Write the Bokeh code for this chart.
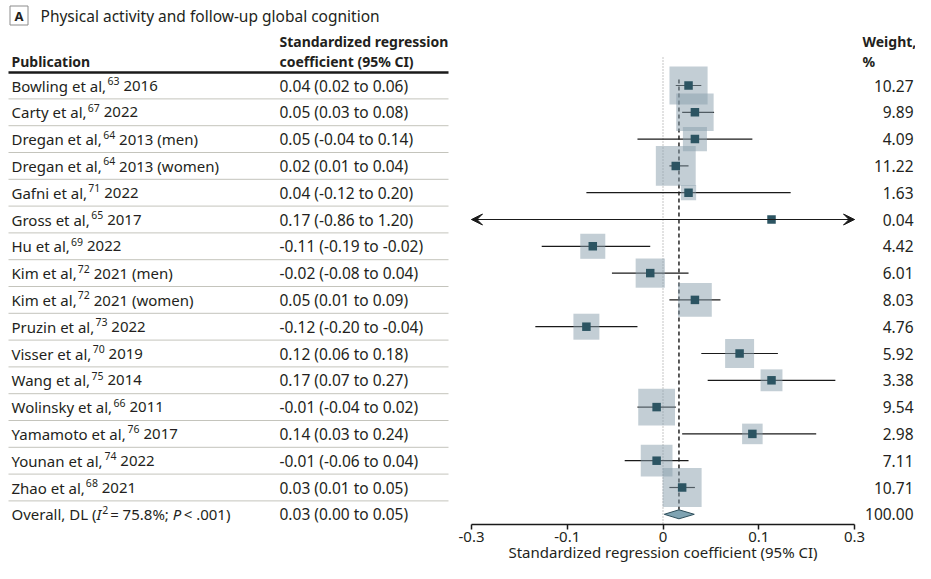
import math
from bokeh.plotting import figure
from bokeh.models import Range1d, FixedTicker, Arrow, VeeHead
from bokeh.core.properties import value
from bokeh.embed import file_html
from bokeh.resources import INLINE

# ---------------- data ----------------
authors = ["Bowling et al,", "Carty et al,", "Dregan et al,", "Dregan et al,", "Gafni et al,",
           "Gross et al,", "Hu et al,", "Kim et al,", "Kim et al,", "Pruzin et al,",
           "Visser et al,", "Wang et al,", "Wolinsky et al,", "Yamamoto et al,",
           "Younan et al,", "Zhao et al,"]
refs = ["63", "67", "64", "64", "71", "65", "69", "72", "72", "73", "70", "75", "66", "76", "74", "68"]
years = ["2016", "2022", "2013 (men)", "2013 (women)", "2022", "2017", "2022", "2021 (men)",
         "2021 (women)", "2022", "2019", "2014", "2011", "2017", "2022", "2021"]
est = [0.04, 0.05, 0.05, 0.02, 0.04, 0.17, -0.11, -0.02, 0.05, -0.12, 0.12, 0.17, -0.01, 0.14, -0.01, 0.03]
lo = [0.02, 0.03, -0.04, 0.01, -0.12, -0.86, -0.19, -0.08, 0.01, -0.20, 0.06, 0.07, -0.04, 0.03, -0.06, 0.01]
hi = [0.06, 0.08, 0.14, 0.04, 0.20, 1.20, -0.02, 0.04, 0.09, -0.04, 0.18, 0.27, 0.02, 0.24, 0.04, 0.05]
weights = [10.27, 9.89, 4.09, 11.22, 1.63, 0.04, 4.42, 6.01, 8.03, 4.76, 5.92, 3.38, 9.54, 2.98, 7.11, 10.71]
overall_est, overall_lo, overall_hi = 0.025, 0.002, 0.049
overall_weight = 100.00
overall_i2 = "75.8%"
overall_p = ".001"
tick_vals = [-0.3, -0.15, 0, 0.15, 0.3]
tick_text = ["-0.3", "-0.1", "0", "0.1", "0.3"]
x_min, x_max = -0.3, 0.3

title_text = "Physical activity and follow-up global cognition"
axis_title = "Standardized regression coefficient (95% CI)"

# ---------------- layout helpers ----------------
FONT = "Noto Sans"
TXT = "#231f20"
NAME_SZ, NUM_SZ, SUP_SZ, HEAD_SZ = 15, 15.5, 10.5, 14

W_EM = {' ': .26, ',': .25, '.': .27, '(': .30, ')': .30, '-': .32, '%': .82, ';': .27, '=': .57, '<': .57,
        'a': .561, 'b': .615, 'c': .48, 'd': .615, 'e': .564, 'f': .344, 'g': .615, 'h': .618, 'i': .258,
        'j': .258, 'k': .534, 'l': .258, 'm': .935, 'n': .618, 'o': .605, 'p': .615, 'q': .615, 'r': .413,
        's': .479, 't': .361, 'u': .618, 'v': .508, 'w': .786, 'x': .529, 'y': .51, 'z': .47,
        'A': .639, 'B': .648, 'C': .632, 'D': .729, 'E': .556, 'F': .522, 'G': .726, 'H': .739, 'I': .278,
        'K': .614, 'L': .524, 'M': .907, 'N': .761, 'O': .779, 'P': .603, 'R': .618, 'S': .549, 'T': .553,
        'V': .603, 'W': .93, 'Y': .56, 'Z': .56}


def tw(s, size):
    return sum(W_EM.get(ch, 0.572) for ch in s) * size


W, H = 915, 563
ROW0, ROW_H = 85.0, 26.8          # centre of first row, row pitch (px)
AX_Y = 524.0                      # axis line (px from top)
X_LO_PX, X_HI_PX = 471.0, 854.0   # pixel positions of x_min / x_max
ppu = (X_HI_PX - X_LO_PX) / (x_max - x_min)

xr = Range1d(x_min - X_LO_PX / ppu, x_max + (W - X_HI_PX) / ppu)
yr = Range1d(start=(H - ROW0) / ROW_H, end=(0 - ROW0) / ROW_H)

p = figure(frame_width=W, frame_height=H, x_range=xr, y_range=yr,
           output_backend="svg", toolbar_location=None, y_axis_location=None,
           min_border=0, background_fill_color="white", border_fill_color="white")
p.extra_x_ranges = {"px": Range1d(0, W)}
p.extra_y_ranges = {"py": Range1d(start=H, end=0)}
p.grid.visible = False
p.outline_line_color = None


def text(xs, ys, texts, size, style="normal", align="left", color=TXT, baseline="middle"):
    p.text(x=xs, y=ys, text=texts, x_range_name="px", y_range_name="py",
           text_font=value(FONT), text_font_size=f"{size}px", text_font_style=style,
           text_align=align, text_baseline=baseline, text_color=color)


def to_row(px_y):
    return (px_y - ROW0) / ROW_H


n = len(est)
rows = list(range(n))
row_px = [ROW0 + ROW_H * i for i in range(n + 1)]

# ---------------- reference lines ----------------
dh = 4.5 / ROW_H
p.segment(x0=[0], y0=[to_row(57)], x1=[0], y1=[to_row(AX_Y)],
          line_color="#8a8a8a", line_width=1, line_dash="1 2")
p.segment(x0=[overall_est], y0=[to_row(79)], x1=[overall_est], y1=[n - dh],
          line_color="#333333", line_width=1.6, line_dash="4 3")

# ---------------- CIs ----------------
lo_c = [max(v, x_min) for v in lo]
hi_c = [min(v, x_max) for v in hi]
p.segment(x0=lo_c, y0=rows, x1=hi_c, y1=rows, line_color="#1a1a1a", line_width=1.2)
for i in rows:
    if lo[i] < x_min or hi[i] > x_max:
        head = dict(size=11, fill_color="#1a1a1a", line_color="#1a1a1a", line_width=1)
        p.add_layout(Arrow(start=VeeHead(**head) if lo[i] < x_min else None,
                           end=VeeHead(**head) if hi[i] > x_max else None,
                           x_start=lo_c[i], y_start=i, x_end=hi_c[i], y_end=i,
                           line_color="#1a1a1a", line_width=1.2))

# weight squares and point estimates
p.scatter(x=est, y=rows, marker="square", size=[11.9 * math.sqrt(w) for w in weights],
          fill_color="#879dab", fill_alpha=0.5, line_color=None)
p.scatter(x=est, y=rows, marker="square", size=8.5, fill_color="#2c5462", line_color=None)

# overall diamond
p.patch(x=[overall_lo, overall_est, overall_hi, overall_est], y=[n, n - dh, n, n + dh],
        fill_color="#7fa3b2", line_color="#2f4f5c", line_width=1)

# ---------------- table lines ----------------
p.segment(x0=[8], y0=[72], x1=[448], y1=[72], x_range_name="px", y_range_name="py",
          line_color="#1a1a1a", line_width=2.5)
sep_y = [ROW0 + ROW_H * (i + 0.5) for i in range(n)]
p.segment(x0=[8] * n, y0=sep_y, x1=[448] * n, y1=sep_y, x_range_name="px", y_range_name="py",
          line_color="#c4c4bc", line_width=1)

# title box
p.rect(x=[18.5], y=[15], width=18, height=19, x_range_name="px", y_range_name="py",
       fill_color=None, line_color="#8c8c8c", line_width=1)
text([18.5], [15.5], ["A"], 13, style="bold", align="center")
text([40], [15], [title_text], 15.5)

# headers
text([11], [61], ["Publication"], HEAD_SZ, style="bold")
text([279, 279], [41, 61], ["Standardized regression", "coefficient (95% CI)"], HEAD_SZ, style="bold")
text([862, 862], [41, 61], ["Weight,", "%"], HEAD_SZ, style="bold")

# study names with superscripts
NAME_X = 11
sup_x = [NAME_X + tw(a, NAME_SZ) + 1.5 for a in authors]
year_x = [sx + tw(r, SUP_SZ) + tw(" ", NAME_SZ) for sx, r in zip(sup_x, refs)]
text([NAME_X] * n, row_px[:n], authors, NAME_SZ)
text(sup_x, [y - 4.5 for y in row_px[:n]], refs, SUP_SZ)
text(year_x, row_px[:n], years, NAME_SZ)

# overall row label
yo = row_px[n]
x1 = NAME_X
s1 = "Overall, DL ("
text([x1], [yo], [s1], NAME_SZ)
x2 = x1 + tw(s1, NAME_SZ)
text([x2], [yo], ["I"], NAME_SZ, style="italic")
x3 = x2 + tw("I", NAME_SZ) + 1.5
text([x3], [yo - 4.5], ["2"], SUP_SZ)
x4 = x3 + tw("2", SUP_SZ) + 2
s4 = "= " + overall_i2 + ";"
text([x4], [yo], [s4], NAME_SZ)
x5 = x4 + tw(s4, NAME_SZ) + tw(" ", NAME_SZ)
text([x5], [yo], ["P"], NAME_SZ, style="italic")
x6 = x5 + tw("P", NAME_SZ) + 2
text([x6], [yo], ["< " + overall_p + ")"], NAME_SZ)

# CI text and weights
ci_txt = [f"{e:.2f} ({l:.2f} to {h:.2f})" for e, l, h in zip(est, lo, hi)]
ci_txt.append(f"{overall_est:.2f} ({overall_lo:.2f} to {overall_hi:.2f})")
text([279] * (n + 1), row_px, ci_txt, NUM_SZ)
w_txt = [f"{w:.2f}" for w in weights] + [f"{overall_weight:.2f}"]
text([913] * (n + 1), row_px, w_txt, NUM_SZ, align="right")

# ---------------- axis (drawn at a fixed location inside the frame) ----------------
ax = p.xaxis[0]
ax.fixed_location = to_row(AX_Y)
ax.bounds = (x_min, x_max)
ax.ticker = FixedTicker(ticks=tick_vals)
ax.major_label_overrides = {v: t for v, t in zip(tick_vals, tick_text)}
ax.minor_tick_line_color = None
ax.major_tick_in = 0
ax.major_tick_out = 5
ax.major_tick_line_width = 1.5
ax.axis_line_width = 1.5
ax.axis_line_color = "#1a1a1a"
ax.major_tick_line_color = "#1a1a1a"
ax.major_label_standoff = 2
ax.major_label_text_font = FONT
ax.major_label_text_font_size = "15px"
ax.major_label_text_color = TXT

zero_px = X_LO_PX + (0 - x_min) * ppu
text([zero_px], [551], [axis_title], 15, align="center")

open("out.html", "w").write(file_html(p, INLINE))
